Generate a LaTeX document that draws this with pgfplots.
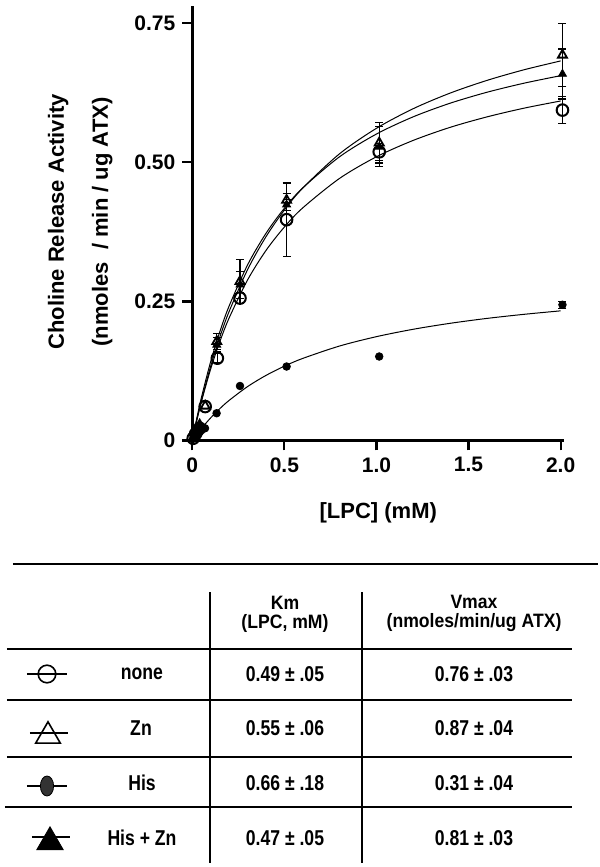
\documentclass[border=0pt]{standalone}
\usepackage{pgfplots}
\pgfplotsset{compat=1.18}
\usepackage{fontspec}
\setmainfont{Liberation Sans}

\newcommand{\tickfont}{\fontsize{10.5bp}{12bp}\selectfont\bfseries}
\newcommand{\axfont}{\fontsize{11bp}{13bp}\selectfont\bfseries}
\newcommand{\tabfont}{\fontsize{8.8bp}{10bp}\selectfont\bfseries}

\begin{document}
\begin{tikzpicture}
\useasboundingbox (0bp,0bp) rectangle (300bp,433.5bp);

% ---- kinetics plot ----
\begin{axis}[
  at={(96.15bp,213.25bp)}, anchor=origin,
  scale only axis, width=186bp, height=217.2bp,
  xmin=0, xmax=2.02, ymin=0, ymax=0.781,
  axis x line*=bottom, axis y line*=left,
  axis line style={line width=1.3bp},
  tick align=outside, major tick length=5bp,
  tick style={line width=1.1bp, black},
  xtick={0,0.5,1,1.5,2}, xticklabels={0,0.5,1.0,1.5,2.0},
  ytick={0,0.25,0.5,0.75}, yticklabels={0,0.25,0.50,0.75},
  ticklabel style={font=\tickfont},
  xlabel={[LPC] (mM)},
  ylabel={Choline Release Activity\\[9bp](nmoles \ / min / ug ATX)},
  every axis x label/.style={at={(axis description cs:0.5,0)}, anchor=center, yshift=-36.25bp, font=\axfont},
  every axis y label/.style={at={(axis description cs:0,0.503)}, xshift=-56bp, rotate=90, anchor=center, align=center, font=\axfont},
  clip=false,
]
% fitted curves
\addplot[black, line width=0.5bp, smooth] coordinates {
 (0,0) (0.02,0.0298) (0.05,0.0704) (0.1,0.1288) (0.15,0.1781) (0.2,0.2203)
 (0.3,0.2886) (0.4,0.3416) (0.5,0.3838) (0.6,0.4183) (0.8,0.4713) (1.0,0.5101)
 (1.2,0.5396) (1.4,0.5630) (1.6,0.5818) (1.8,0.5974) (2.0,0.6104)};
\addplot[black, line width=0.5bp, smooth] coordinates {
 (0,0) (0.02,0.0305) (0.05,0.0725) (0.1,0.1338) (0.15,0.1864) (0.2,0.2320)
 (0.3,0.3071) (0.4,0.3663) (0.5,0.4143) (0.6,0.4539) (0.8,0.5156) (1.0,0.5613)
 (1.2,0.5966) (1.4,0.6246) (1.6,0.6474) (1.8,0.6664) (2.0,0.6824)};
\addplot[black, line width=0.5bp, smooth] coordinates {
 (0,0) (0.02,0.0331) (0.05,0.0779) (0.1,0.1421) (0.15,0.1960) (0.2,0.2418)
 (0.3,0.3156) (0.4,0.3724) (0.5,0.4175) (0.6,0.4542) (0.8,0.5102) (1.0,0.5510)
 (1.2,0.5820) (1.4,0.6064) (1.6,0.6261) (1.8,0.6423) (2.0,0.6559)};
\addplot[black, line width=0.5bp, smooth] coordinates {
 (0,0) (0.02,0.0091) (0.05,0.0218) (0.1,0.0408) (0.15,0.0574) (0.2,0.0721)
 (0.3,0.0969) (0.4,0.1170) (0.5,0.1336) (0.6,0.1476) (0.8,0.1699) (1.0,0.1867)
 (1.2,0.2000) (1.4,0.2107) (1.6,0.2195) (1.8,0.2268) (2.0,0.2331)};

% data with error bars
\pgfplotsset{errstyle/.style={error bars/.cd, y dir=both, y explicit,
  error bar style={line width=0.6bp, black},
  error mark options={rotate=90, mark size=2bp, line width=0.6bp, black}}}
% Zn (open triangles)
\addplot[only marks, mark=triangle, mark size=2.6bp, mark options={line width=0.9bp, black}, errstyle] coordinates {
 (0.133,0.178) +- (0,0.014) (0.259,0.286) +- (0,0.039) (0.512,0.432) +- (0,0.012)
 (1.015,0.535) +- (0,0.036) (2.01,0.693) +- (0,0.056)};
\addplot[only marks, mark=triangle, mark size=2.6bp, mark options={line width=0.9bp, black}] coordinates {
 (0.006,0.005) (0.02,0.014) (0.04,0.028) (0.07,0.062)};
% His + Zn (filled triangles)
\addplot[only marks, mark=triangle*, mark size=2.3bp, mark options={black}, errstyle] coordinates {
 (0.133,0.172) +- (0,0.013) (0.259,0.280) +- (0,0.024) (0.512,0.424) +- (0,0.010)
 (1.015,0.528) +- (0,0.036) (2.01,0.659) +- (0,0.045)};
\addplot[only marks, mark=triangle*, mark size=2.3bp, mark options={black}] coordinates {
 (0.006,0.004) (0.02,0.013) (0.04,0.026)};
% none (open circles)
\addplot[only marks, mark=o, mark size=2.9bp, mark options={line width=1bp, black}, errstyle] coordinates {
 (0.136,0.148) +- (0,0.008) (0.259,0.256) +- (0,0.010) (0.512,0.397) +- (0,0.066)
 (1.015,0.519) +- (0,0.015) (2.01,0.594) +- (0,0.024)};
\addplot[only marks, mark=o, mark size=2.9bp, mark options={line width=1bp, black}] coordinates {
 (0.005,0.004) (0.018,0.012) (0.04,0.022) (0.07,0.061)};
% His (small filled circles)
\addplot[only marks, mark=*, mark size=1.9bp, mark options={black}, errstyle] coordinates {
 (2.01,0.244) +- (0,0.006)};
\addplot[only marks, mark=*, mark size=1.9bp, mark options={black}] coordinates {
 (0.005,0.003) (0.02,0.008) (0.04,0.015) (0.069,0.022) (0.132,0.049)
 (0.259,0.098) (0.512,0.133) (1.015,0.151)};
\end{axis}

% ---- table of fit parameters (pixel-scaled overlay) ----
\begin{axis}[
  at={(0bp,433.5bp)}, anchor=origin,
  scale only axis, width=300bp, height=433.5bp,
  xmin=0, xmax=600, ymin=0, ymax=867, y dir=reverse,
  hide axis, clip=false,
]
\draw[line width=1bp] (axis cs:13,564) -- (axis cs:598,564);
\draw[line width=1bp] (axis cs:7,649) -- (axis cs:572,649);
\draw[line width=1bp] (axis cs:7,700) -- (axis cs:572,700);
\draw[line width=1bp] (axis cs:7,757) -- (axis cs:572,757);
\draw[line width=1bp] (axis cs:5,807) -- (axis cs:572,807);
\draw[line width=1bp] (axis cs:210,592) -- (axis cs:210,863);
\draw[line width=1bp] (axis cs:362,592) -- (axis cs:362,863);

\tikzset{tab/.style={font=\tabfont, yscale=1.22, inner sep=0pt},
         head/.style={font=\tabfont, yscale=1.1, inner sep=0pt}}
\node[head] at (axis cs:285,603) {Km};
\node[head] at (axis cs:285,623) {(LPC, mM)};
\node[head] at (axis cs:474,602) {Vmax};
\node[head] at (axis cs:474,623) {(nmoles/min/ug ATX)};

\node[tab] at (axis cs:142,674) {none};
\node[tab] at (axis cs:141,728) {Zn};
\node[tab] at (axis cs:142,783) {His};
\node[tab] at (axis cs:142,838) {His + Zn};

\node[tab] at (axis cs:285,674) {0.49 ± .05};
\node[tab] at (axis cs:285,728) {0.55 ± .06};
\node[tab] at (axis cs:285,783) {0.66 ± .18};
\node[tab] at (axis cs:285,838) {0.47 ± .05};
\node[tab] at (axis cs:474,674) {0.76 ± .03};
\node[tab] at (axis cs:474,728) {0.87 ± .04};
\node[tab] at (axis cs:474,783) {0.31 ± .04};
\node[tab] at (axis cs:474,838) {0.81 ± .03};

% legend symbols
\addplot[only marks, mark=o, mark size=4.4bp, mark options={line width=0.8bp, black}] coordinates {(47,674)};
\addplot[black, line width=0.8bp] coordinates {(27,674) (67,674)};
\addplot[only marks, mark=triangle, mark size=7.1bp, mark options={line width=0.8bp, black}] coordinates {(48,736)};
\addplot[black, line width=0.8bp] coordinates {(30,733) (68,733)};
\addplot[only marks, mark=*, mark size=5bp, mark options={xscale=0.66, fill=black!80, draw=black}] coordinates {(47,786)};
\addplot[black, line width=0.8bp] coordinates {(27,786) (67,786)};
\addplot[only marks, mark=triangle*, mark size=7.6bp, mark options={black}] coordinates {(50,842)};
\addplot[black, line width=0.8bp] coordinates {(32,837) (70,837)};
\end{axis}
\end{tikzpicture}
\end{document}
